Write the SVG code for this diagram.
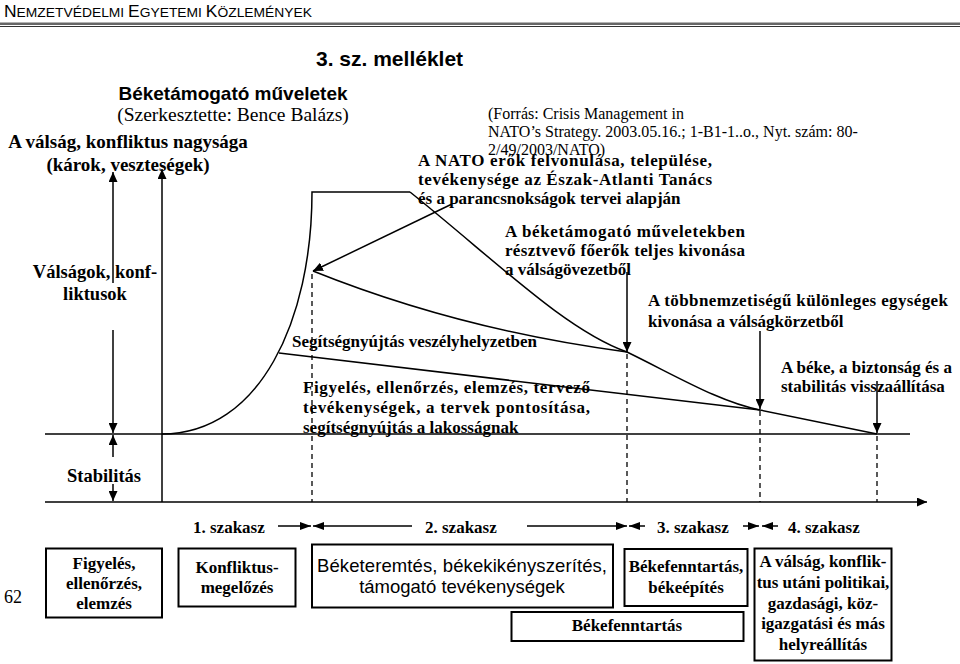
<svg xmlns="http://www.w3.org/2000/svg" width="960" height="664" viewBox="0 0 960 664">
<style>
.serif{font-family:"Liberation Serif","Times New Roman",serif;fill:#000}
.sans{font-family:"Liberation Sans",Arial,sans-serif;fill:#000}
.b{font-weight:bold}
.lbl{font-family:"Liberation Serif","Times New Roman",serif;font-weight:bold;font-size:17px;fill:#000}
.mid{text-anchor:middle}
.ln{stroke:#000;stroke-width:1.5;fill:none}
.dash{stroke:#000;stroke-width:1.3;stroke-dasharray:5,4;fill:none}
.box{fill:#fff;stroke:#000;stroke-width:2}
</style>
<defs>
<marker id="ah" markerUnits="userSpaceOnUse" markerWidth="10" markerHeight="9" refX="10" refY="4.5" orient="auto">
<path d="M0,0 L10,4.5 L0,9 z" fill="#000"/>
</marker>
<marker id="ahs" markerUnits="userSpaceOnUse" markerWidth="11" markerHeight="8" refX="11" refY="4" orient="auto">
<path d="M0,0 L11,4 L0,8 z" fill="#000"/>
</marker>
</defs>
<rect width="960" height="664" fill="#fff"/>

<g id="header">
<text class="sans" x="4" y="17" font-size="13.5" textLength="308" lengthAdjust="spacingAndGlyphs" fill="#222"><tspan font-size="17">N</tspan>EMZETVÉDELMI <tspan font-size="17">E</tspan>GYETEMI <tspan font-size="17">K</tspan>ÖZLEMÉNYEK</text>
<rect x="0" y="22.5" width="960" height="2.5" fill="#666"/>
<rect x="0" y="26" width="960" height="1" fill="#333"/>
</g>

<g id="title">
<text class="sans b" x="316" y="66" font-size="21">3. sz. melléklet</text>
<text class="sans b mid" x="233" y="100" font-size="19">Béketámogató műveletek</text>
<text class="serif mid" x="233" y="121" font-size="19.5">(Szerkesztette: Bence Balázs)</text>
</g>

<g id="y-axis-label">
<text class="serif b mid" x="128" y="148" font-size="19">A válság, konfliktus nagysága</text>
<text class="serif b mid" x="128" y="171" font-size="19">(károk, veszteségek)</text>
</g>

<g id="source">
<text class="serif" font-size="16"><tspan x="488" y="119">(Forrás: Crisis Management in</tspan><tspan x="488" y="137">NATO’s Strategy. 2003.05.16.; 1-B1-1..o., Nyt. szám: 80-</tspan><tspan x="488" y="155">2/49/2003/NATO)</tspan></text>
</g>

<g id="connectors">
<!-- left scale arrows -->
<line class="ln" x1="113" y1="283" x2="113" y2="172" marker-end="url(#ah)"/>
<line class="ln" x1="113" y1="330" x2="113" y2="433" marker-end="url(#ah)"/>
<line class="ln" x1="113" y1="457" x2="113" y2="435" marker-end="url(#ah)"/>
<line class="ln" x1="113" y1="484" x2="113" y2="501" marker-end="url(#ah)"/>
<!-- vertical axis -->
<line class="ln" x1="162" y1="502" x2="162" y2="169" marker-end="url(#ah)"/>
<!-- stability line -->
<line class="ln" x1="45" y1="434" x2="910" y2="434"/>
<!-- time axis -->
<line class="ln" x1="45" y1="502" x2="927" y2="502" marker-end="url(#ah)"/>
<!-- crisis curve -->
<path class="ln" d="M162,434 C260,434 312,320 312,192 H410"/>
<path class="ln" d="M410,192 C495,260 565,330 627,352 C680,378 720,402 760,410 L877,434"/>
<path class="ln" d="M313,271 Q460,330 627,352"/>
<path class="ln" d="M279,353 L760,410"/>
<!-- label pointers -->
<line class="ln" x1="452" y1="204" x2="313" y2="271" marker-end="url(#ah)"/>
<line class="ln" x1="627" y1="272" x2="627" y2="352" marker-end="url(#ah)"/>
<line class="ln" x1="760" y1="331" x2="760" y2="409" marker-end="url(#ah)"/>
<line class="ln" x1="877" y1="381" x2="877" y2="433" marker-end="url(#ah)"/>
<!-- dashed phase borders -->
<line class="dash" x1="312" y1="274" x2="312" y2="502"/>
<line class="dash" x1="627" y1="354" x2="627" y2="502"/>
<line class="dash" x1="760" y1="411" x2="760" y2="502"/>
<line class="dash" x1="877" y1="436" x2="877" y2="502"/>
<!-- phase arrows -->
<line class="ln" x1="278" y1="526" x2="311" y2="526" marker-end="url(#ahs)"/>
<line class="ln" x1="412" y1="526" x2="313" y2="526" marker-end="url(#ahs)"/>
<line class="ln" x1="527" y1="526" x2="627" y2="526" marker-end="url(#ahs)"/>
<line class="ln" x1="645" y1="526" x2="629" y2="526" marker-end="url(#ahs)"/>
<line class="ln" x1="743" y1="526" x2="759" y2="526" marker-end="url(#ahs)"/>
<line class="ln" x1="778" y1="526" x2="762" y2="526" marker-end="url(#ahs)"/>
</g>

<g id="label-valsagok">
<text class="serif b mid" x="95" y="278" font-size="18.5">Válságok, konf-</text>
<text class="serif b mid" x="95" y="300" font-size="18.5">liktusok</text>
</g>
<g id="label-stabilitas">
<text class="serif b mid" x="104" y="482" font-size="18.5">Stabilitás</text>
</g>

<g id="label-nato">
<text class="lbl" x="418" y="166" textLength="294" lengthAdjust="spacing">A NATO erők felvonulása, települése,</text>
<text class="lbl" x="418" y="185" textLength="294" lengthAdjust="spacing">tevékenysége az Észak-Atlanti Tanács</text>
<text class="lbl" x="418" y="204">és a parancsnokságok tervei alapján</text>
</g>
<g id="label-fokivonas">
<text class="lbl" x="505" y="237" textLength="240" lengthAdjust="spacing">A béketámogató műveletekben</text>
<text class="lbl" x="505" y="256" textLength="240" lengthAdjust="spacing">résztvevő főerők teljes kivonása</text>
<text class="lbl" x="505" y="275">a válságövezetből</text>
</g>
<g id="label-kulonleges">
<text class="lbl" x="648" y="306" font-size="17.5" textLength="300" lengthAdjust="spacing">A többnemzetiségű különleges egységek</text>
<text class="lbl" x="648" y="327" font-size="18">kivonása a válságkörzetből</text>
</g>
<g id="label-segitseg">
<text class="lbl" x="292" y="347" font-size="17.5">Segítségnyújtás veszélyhelyzetben</text>
</g>
<g id="label-beke">
<text class="lbl" x="781" y="373" font-size="17.5">A béke, a biztonság és a</text>
<text class="lbl" x="781" y="392" font-size="17.5">stabilitás visszaállítása</text>
</g>
<g id="label-figyeles">
<text class="lbl" x="303" y="393" font-size="17.5" textLength="287" lengthAdjust="spacing">Figyelés, ellenőrzés, elemzés, tervező</text>
<text class="lbl" x="303" y="413" font-size="17.5" textLength="287" lengthAdjust="spacing">tevékenységek, a tervek pontosítása,</text>
<text class="lbl" x="303" y="433" font-size="17.5">segítségnyújtás a lakosságnak</text>
</g>

<g id="phases">
<text class="lbl" x="193" y="533">1. szakasz</text>
<text class="lbl" x="425" y="533">2. szakasz</text>
<text class="lbl" x="657" y="533">3. szakasz</text>
<text class="lbl" x="788" y="533">4. szakasz</text>
</g>

<g id="box-figyeles">
<rect class="box" x="46" y="548.5" width="116" height="69"/>
<text class="lbl mid" x="104" y="569" font-size="17.5">Figyelés,</text>
<text class="lbl mid" x="104" y="589" font-size="17.5">ellenőrzés,</text>
<text class="lbl mid" x="104" y="609" font-size="17.5">elemzés</text>
</g>
<g id="box-konfliktusmegelozes">
<rect class="box" x="178.5" y="548.5" width="117" height="58"/>
<text class="lbl mid" x="237" y="573" font-size="17.5">Konfliktus-</text>
<text class="lbl mid" x="237" y="593" font-size="17.5">megelőzés</text>
</g>
<g id="box-beketeremtes">
<rect class="box" x="312" y="544.5" width="301" height="63"/>
<text class="sans mid" x="462" y="572" font-size="18.5" textLength="290" lengthAdjust="spacing">Béketeremtés, békekikényszerítés,</text>
<text class="sans mid" x="462" y="593" font-size="18.5">támogató tevékenységek</text>
</g>
<g id="box-bekefenntartas-epites">
<rect class="box" x="624.5" y="549" width="123" height="57"/>
<text class="lbl mid" x="686" y="572">Békefenntartás,</text>
<text class="lbl mid" x="686" y="593">békeépítés</text>
</g>
<g id="box-helyreallitas">
<rect class="box" x="754.5" y="548.5" width="137" height="112"/>
<text class="lbl mid" x="823" y="567" font-size="17.5">A válság, konflik-</text>
<text class="lbl mid" x="823" y="588" font-size="17.5">tus utáni politikai,</text>
<text class="lbl mid" x="823" y="608.5" font-size="17.5">gazdasági, köz-</text>
<text class="lbl mid" x="823" y="629" font-size="17.5">igazgatási és más</text>
<text class="lbl mid" x="823" y="650" font-size="17.5">helyreállítás</text>
</g>
<g id="box-bekefenntartas">
<rect class="box" x="511.5" y="612" width="232" height="29"/>
<text class="lbl mid" x="627" y="631">Békefenntartás</text>
</g>

<g id="page-number">
<text class="serif" x="4" y="603" font-size="18">62</text>
</g>
</svg>
